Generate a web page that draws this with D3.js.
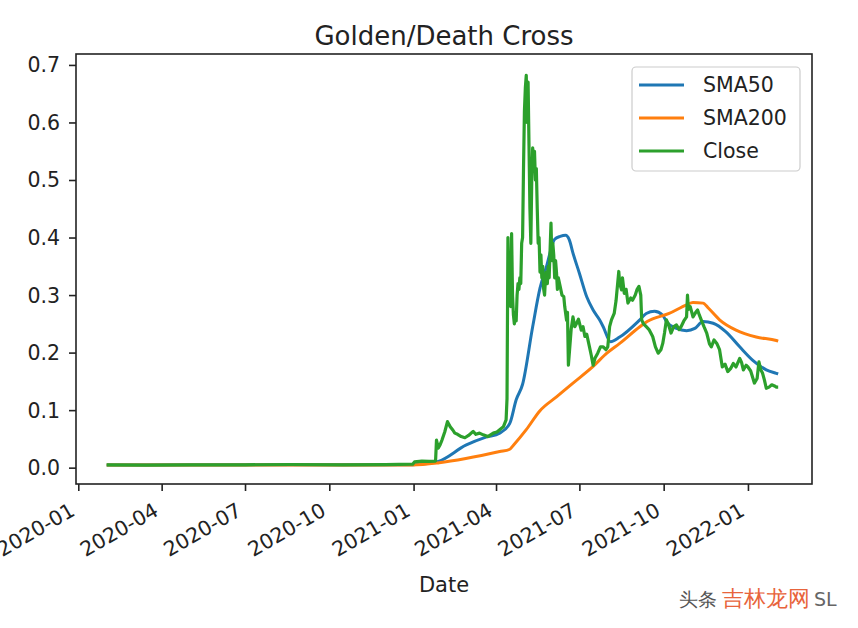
<!DOCTYPE html>
<html>
<head>
<meta charset="utf-8">
<script src="https://cdn.jsdelivr.net/npm/d3@7"></script>
<style>
  html, body { margin: 0; padding: 0; background: #fff; }
  svg { display: block; }
  text { font-family: "DejaVu Sans", sans-serif; }
</style>
</head>
<body>
<svg id="chart" width="858" height="628"></svg>
<script>
// ---------------- data ----------------
const closeDates = [
  "2020-02-01","2020-03-15","2020-05-01","2020-07-01","2020-08-20","2020-10-15","2020-12-01","2020-12-31",
  "2021-01-02","2021-01-10","2021-01-18","2021-01-25","2021-01-26","2021-01-28","2021-01-30","2021-02-01",
  "2021-02-04","2021-02-07","2021-02-10","2021-02-13","2021-02-15","2021-02-18","2021-02-22","2021-02-26",
  "2021-03-02","2021-03-07","2021-03-10","2021-03-14","2021-03-18","2021-03-23","2021-03-29","2021-04-02",
  "2021-04-05","2021-04-09","2021-04-12","2021-04-13","2021-04-14","2021-04-15","2021-04-16","2021-04-17",
  "2021-04-18","2021-04-19","2021-04-20","2021-04-21","2021-04-22","2021-04-23","2021-04-24","2021-04-25",
  "2021-04-26","2021-04-27","2021-04-28","2021-04-29","2021-04-30","2021-05-01","2021-05-02","2021-05-03",
  "2021-05-04","2021-05-05","2021-05-06","2021-05-07","2021-05-08","2021-05-09","2021-05-10","2021-05-11",
  "2021-05-12","2021-05-13","2021-05-14","2021-05-15","2021-05-16","2021-05-17","2021-05-18","2021-05-19",
  "2021-05-20","2021-05-21","2021-05-22","2021-05-23","2021-05-24","2021-05-25","2021-05-26","2021-05-27",
  "2021-05-28","2021-05-29","2021-05-31","2021-06-01","2021-06-02","2021-06-03","2021-06-04","2021-06-05",
  "2021-06-06","2021-06-07","2021-06-08","2021-06-10","2021-06-12","2021-06-14","2021-06-15","2021-06-17",
  "2021-06-18","2021-06-19","2021-06-22","2021-06-24","2021-06-26","2021-06-28","2021-06-30","2021-07-03",
  "2021-07-05","2021-07-07","2021-07-09","2021-07-12","2021-07-14","2021-07-16","2021-07-18","2021-07-21",
  "2021-07-24","2021-07-27","2021-07-30","2021-08-01","2021-08-03","2021-08-05","2021-08-08","2021-08-10",
  "2021-08-13","2021-08-14","2021-08-16","2021-08-17","2021-08-19","2021-08-21","2021-08-23","2021-08-26",
  "2021-08-28","2021-08-31","2021-09-02","2021-09-04","2021-09-06","2021-09-07","2021-09-09","2021-09-12",
  "2021-09-15","2021-09-19","2021-09-22","2021-09-25","2021-09-28","2021-09-30","2021-10-02","2021-10-04",
  "2021-10-06","2021-10-09","2021-10-12","2021-10-15","2021-10-18","2021-10-20","2021-10-23","2021-10-26",
  "2021-10-27","2021-10-28","2021-10-30","2021-11-02","2021-11-05","2021-11-07","2021-11-09","2021-11-11",
  "2021-11-14","2021-11-17","2021-11-20","2021-11-22","2021-11-25","2021-11-28","2021-12-01","2021-12-04",
  "2021-12-07","2021-12-10","2021-12-13","2021-12-16","2021-12-19","2021-12-23","2021-12-25","2021-12-27",
  "2021-12-30","2022-01-01","2022-01-04","2022-01-08","2022-01-11","2022-01-13","2022-01-15","2022-01-17",
  "2022-01-19","2022-01-21","2022-01-24","2022-01-27","2022-01-30","2022-02-01","2022-02-03"
];
const closeValues = [
  0.0050,0.0045,0.0048,0.0050,0.0055,0.0050,0.0052,0.0060,
  0.0100,0.0115,0.0110,0.0115,0.048,0.034,0.040,0.048,
  0.062,0.080,0.071,0.065,0.060,0.058,0.054,0.052,
  0.056,0.063,0.058,0.060,0.057,0.054,0.060,0.062,
  0.066,0.071,0.083,0.120,0.400,0.300,0.360,0.280,
  0.407,0.300,0.265,0.250,0.270,0.255,0.300,0.320,
  0.310,0.330,0.320,0.390,0.400,0.520,0.620,0.660,
  0.682,0.600,0.670,0.560,0.450,0.390,0.500,0.556,
  0.520,0.550,0.500,0.520,0.450,0.390,0.400,0.340,
  0.370,0.330,0.350,0.310,0.300,0.330,0.340,0.320,
  0.350,0.330,0.425,0.360,0.390,0.370,0.330,0.360,
  0.340,0.310,0.330,0.315,0.300,0.297,0.280,0.256,
  0.270,0.178,0.240,0.262,0.245,0.251,0.258,0.239,
  0.245,0.228,0.232,0.210,0.195,0.178,0.190,0.199,
  0.210,0.210,0.205,0.210,0.245,0.257,0.268,0.290,
  0.341,0.320,0.309,0.330,0.303,0.310,0.286,0.295,
  0.291,0.300,0.310,0.315,0.300,0.257,0.250,0.245,
  0.240,0.228,0.210,0.199,0.205,0.216,0.235,0.257,
  0.250,0.234,0.245,0.248,0.240,0.245,0.255,0.262,
  0.300,0.275,0.280,0.262,0.270,0.274,0.265,0.257,
  0.245,0.234,0.215,0.210,0.222,0.216,0.205,0.175,
  0.180,0.167,0.172,0.181,0.175,0.190,0.183,0.170,
  0.178,0.175,0.168,0.147,0.155,0.184,0.170,0.164,
  0.152,0.138,0.140,0.144,0.142,0.140,0.140
];

const sma50Dates = [
  "2020-02-01","2020-12-31","2021-01-28","2021-02-27","2021-03-21","2021-04-05","2021-04-16","2021-04-23",
  "2021-04-30","2021-05-11","2021-05-19","2021-05-26","2021-06-04","2021-06-10","2021-06-16","2021-06-20",
  "2021-06-24","2021-07-01","2021-07-09","2021-07-16","2021-07-23","2021-07-27","2021-08-04","2021-08-14",
  "2021-09-05","2021-09-12","2021-09-21","2021-09-30","2021-10-04","2021-10-15","2021-10-26","2021-11-04",
  "2021-11-13","2021-11-24","2021-12-08","2021-12-23","2022-01-06","2022-01-21","2022-02-01","2022-02-03"
];
const sma50Values = [
  0.0048,0.0050,0.0110,0.039,0.053,0.060,0.077,0.118,
  0.145,0.245,0.312,0.349,0.397,0.402,0.404,0.396,
  0.373,0.338,0.297,0.274,0.257,0.245,0.219,0.227,
  0.257,0.268,0.272,0.265,0.254,0.242,0.238,0.242,
  0.254,0.251,0.236,0.210,0.187,0.170,0.164,0.163
];

const sma200Dates = [
  "2020-02-01","2020-12-31","2021-01-29","2021-02-27","2021-04-05","2021-04-16","2021-04-20","2021-05-04",
  "2021-05-19","2021-06-06","2021-06-24","2021-07-16","2021-07-31","2021-08-14","2021-09-05","2021-09-13",
  "2021-10-07","2021-10-26","2021-11-02","2021-11-13","2021-11-19","2021-12-01","2021-12-19","2022-01-10",
  "2022-02-01","2022-02-03"
];
const sma200Values = [
  0.0045,0.0047,0.0087,0.016,0.028,0.032,0.039,0.066,
  0.099,0.123,0.147,0.176,0.199,0.216,0.245,0.254,
  0.268,0.283,0.287,0.286,0.277,0.257,0.239,0.227,
  0.221,0.220
];

const seriesNames = ["SMA50", "SMA200", "Close"];
const xTickLabels = ["2020-01","2020-04","2020-07","2020-10","2021-01","2021-04","2021-07","2021-10","2022-01"];
const yTickValues = [0.0, 0.1, 0.2, 0.3, 0.4, 0.5, 0.6, 0.7];
const titleText = "Golden/Death Cross";
const xLabelText = "Date";

// ---------------- layout ----------------
const W = 858, H = 628;
const plot = { left: 76, right: 812, top: 54, bottom: 484 };
const colors = { SMA50: "#1f77b4", SMA200: "#ff7f0e", Close: "#2ca02c" };
const ink = "#222";

const parseDay = d3.utcParse("%Y-%m-%d");
const parseMonth = d3.utcParse("%Y-%m");

const x = d3.scaleUtc()
  .domain([new Date(Date.UTC(2019, 11, 29, 12)), new Date(Date.UTC(2022, 2, 11, 22))])
  .range([plot.left, plot.right]);
const y = d3.scaleLinear()
  .domain([-0.0284, 0.719])
  .range([plot.bottom, plot.top]);

const svg = d3.select("#chart");
svg.append("rect").attr("width", W).attr("height", H).attr("fill", "#fff");

function zip(dates, values) { return dates.map((d, i) => ({ date: parseDay(d), value: values[i] })); }
const series = {
  SMA50: zip(sma50Dates, sma50Values),
  SMA200: zip(sma200Dates, sma200Values),
  Close: zip(closeDates, closeValues)
};

const smooth = d3.line().x(d => x(d.date)).y(d => y(d.value)).curve(d3.curveMonotoneX);
const straight = d3.line().x(d => x(d.date)).y(d => y(d.value)).curve(d3.curveLinear);

const lines = svg.append("g");
seriesNames.forEach(name => {
  lines.append("path")
    .datum(series[name])
    .attr("fill", "none")
    .attr("stroke", colors[name])
    .attr("stroke-width", name === "Close" ? 3.2 : 3)
    .attr("stroke-linejoin", "round")
    .attr("stroke-linecap", "butt")
    .attr("d", name === "Close" ? straight(series[name]) : smooth(series[name]));
});

// frame
svg.append("rect")
  .attr("x", plot.left).attr("y", plot.top)
  .attr("width", plot.right - plot.left).attr("height", plot.bottom - plot.top)
  .attr("fill", "none").attr("stroke", ink).attr("stroke-width", 1.6);

// y axis
const yAxis = d3.axisLeft(y).tickValues(yTickValues).tickFormat(d3.format(".1f")).tickSize(7).tickPadding(9);
const gy = svg.append("g").attr("transform", `translate(${plot.left},0)`).call(yAxis);
gy.select(".domain").remove();
gy.selectAll(".tick line").attr("stroke", ink).attr("stroke-width", 1.6);
gy.selectAll(".tick text")
  .attr("font-family", "DejaVu Sans, sans-serif").attr("font-size", 20.5).style("fill", ink)
  .attr("dy", "0.34em");

// x axis
const xTicks = xTickLabels.map(s => parseMonth(s));
const xAxis = d3.axisBottom(x).tickValues(xTicks).tickFormat(d3.utcFormat("%Y-%m")).tickSize(7);
const gx = svg.append("g").attr("transform", `translate(0,${plot.bottom})`).call(xAxis);
gx.select(".domain").remove();
gx.selectAll(".tick line").attr("stroke", ink).attr("stroke-width", 1.6);
gx.selectAll(".tick text")
  .attr("font-family", "DejaVu Sans, sans-serif").attr("font-size", 20.5).style("fill", ink)
  .attr("text-anchor", "end")
  .attr("y", 0).attr("dy", 0)
  .attr("transform", "translate(-2.4,30.5) rotate(-30)");

// title & x label
svg.append("text").attr("x", (plot.left + plot.right) / 2).attr("y", 45)
  .attr("text-anchor", "middle").attr("font-size", 26).style("fill", ink).text(titleText);
svg.append("text").attr("x", (plot.left + plot.right) / 2).attr("y", 592)
  .attr("text-anchor", "middle").attr("font-size", 21).style("fill", ink).text(xLabelText);

// legend
const leg = svg.append("g");
leg.append("rect").attr("x", 632).attr("y", 67).attr("width", 168).attr("height", 104)
  .attr("rx", 4).attr("fill", "#fff").attr("fill-opacity", 0.8)
  .attr("stroke", "#cccccc").attr("stroke-width", 1.2);
seriesNames.forEach((name, i) => {
  const cy = 85 + i * 33;
  leg.append("line").attr("x1", 639).attr("x2", 684).attr("y1", cy).attr("y2", cy)
    .attr("stroke", colors[name]).attr("stroke-width", 3);
  leg.append("text").attr("x", 703).attr("y", cy + 7).attr("font-size", 20.5).style("fill", ink).text(name);
});

// watermark
const wm = svg.append("g");
wm.append("text").attr("x", 679).attr("y", 606).attr("font-size", 19)
  .attr("font-family", "Noto Sans CJK SC, sans-serif").style("fill", "#555").text("头条");
wm.append("text").attr("x", 722).attr("y", 606).attr("font-size", 22)
  .attr("font-family", "Noto Sans CJK SC, sans-serif").style("fill", "#e8643c").text("吉林龙网");
wm.append("text").attr("x", 814).attr("y", 606).attr("font-size", 19)
  .attr("font-family", "DejaVu Sans, sans-serif").style("fill", "#666").text("SL");
</script>
</body>
</html>
